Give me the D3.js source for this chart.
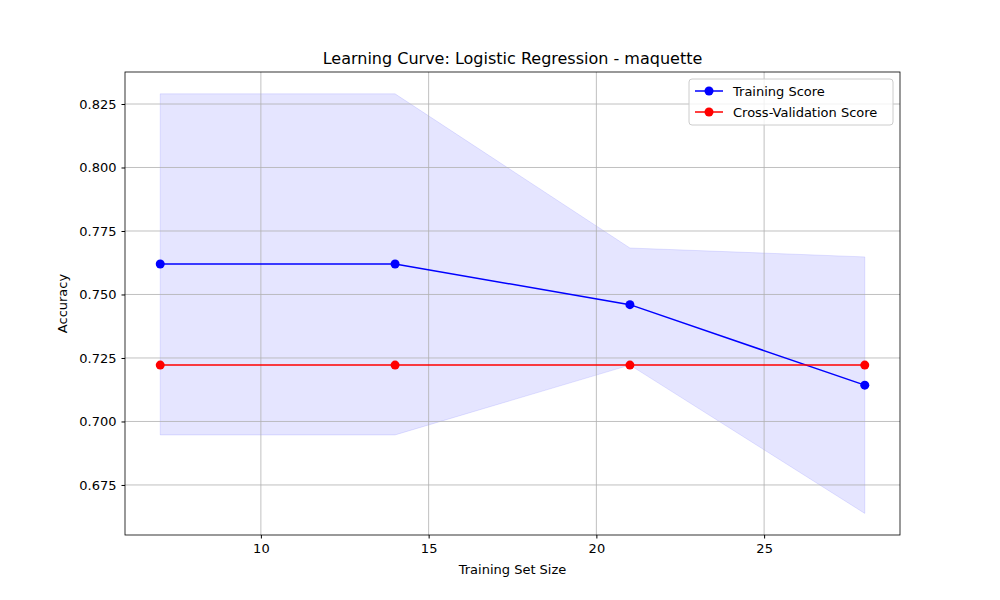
<!DOCTYPE html>
<html><head><meta charset="utf-8">
<script src="https://cdn.jsdelivr.net/npm/d3@7"></script>
<style>body{margin:0;background:#fff;font-family:"DejaVu Sans",sans-serif;}</style>
</head><body><div id="chart"></div>
<script>
var sizes = [7, 14, 21, 28];
var trainScore = [0.762, 0.762, 0.746, 0.7143];
var trainUpper = [0.829, 0.829, 0.7683, 0.7648];
var trainLower = [0.6947, 0.6947, 0.7222, 0.6638];
var cvScore = [0.7222, 0.7222, 0.7222, 0.7222];
var xTicks = [10, 15, 20, 25];
var yTicks = [0.675, 0.700, 0.725, 0.750, 0.775, 0.800, 0.825];

var W = 1000, H = 600, m = {l: 125, r: 100, t: 72, b: 65};
var svg = d3.select("#chart").append("svg").attr("width", W).attr("height", H);
var x = d3.scaleLinear().domain([5.95, 29.05]).range([m.l, W - m.r]);
var y = d3.scaleLinear().domain([0.6553, 0.8376]).range([H - m.b, m.t]);

// band (under grid, like matplotlib)
var area = d3.area().x((d, i) => x(sizes[i])).y0((d, i) => y(trainLower[i])).y1(d => y(d));
svg.append("path").datum(trainUpper).attr("d", area)
  .attr("fill", "rgba(0,0,255,0.1)").attr("stroke", "rgba(0,0,255,0.1)");

// grid
svg.append("g").selectAll("line").data(xTicks).enter().append("line")
  .attr("x1", d => x(d)).attr("x2", d => x(d)).attr("y1", m.t).attr("y2", H - m.b)
  .attr("stroke", "#b0b0b0").attr("stroke-width", 0.8);
svg.append("g").selectAll("line").data(yTicks).enter().append("line")
  .attr("y1", d => y(d)).attr("y2", d => y(d)).attr("x1", m.l).attr("x2", W - m.r)
  .attr("stroke", "#b0b0b0").attr("stroke-width", 0.8);

var line = d3.line().x((d, i) => x(sizes[i])).y(d => y(d));
function series(vals, col) {
  svg.append("path").datum(vals).attr("d", line).attr("fill", "none").attr("stroke", col).attr("stroke-width", 1.5);
  svg.append("g").selectAll("circle").data(vals).enter().append("circle")
    .attr("cx", (d, i) => x(sizes[i])).attr("cy", d => y(d)).attr("r", 4.5).attr("fill", col);
}
series(trainScore, "#0000ff");
series(cvScore, "#ff0000");

// axes
var xa = svg.append("g").attr("transform", "translate(0," + (H - m.b) + ")")
  .call(d3.axisBottom(x).tickValues(xTicks).tickSize(3.5).tickPadding(5));
var ya = svg.append("g").attr("transform", "translate(" + m.l + ",0)")
  .call(d3.axisLeft(y).tickValues(yTicks).tickFormat(d3.format(".3f")).tickSize(3.5).tickPadding(5));
[xa, ya].forEach(a => { a.select(".domain").remove(); a.selectAll("text").attr("font-size", 13).attr("font-family", "DejaVu Sans").attr("fill", "#000"); });
svg.append("rect").attr("x", m.l).attr("y", m.t).attr("width", W - m.l - m.r).attr("height", H - m.t - m.b)
  .attr("fill", "none").attr("stroke", "#000").attr("stroke-width", 0.8);

svg.append("text").attr("x", (m.l + W - m.r) / 2).attr("y", 64).attr("text-anchor", "middle")
  .attr("font-size", 16).text("Learning Curve: Logistic Regression - maquette");
svg.append("text").attr("x", (m.l + W - m.r) / 2).attr("y", 574).attr("text-anchor", "middle")
  .attr("font-size", 13).text("Training Set Size");
svg.append("text").attr("transform", "translate(67," + ((m.t + H - m.b) / 2) + ") rotate(-90)")
  .attr("text-anchor", "middle").attr("font-size", 13).text("Accuracy");

// legend
var lg = svg.append("g").attr("transform", "translate(689,79)");
lg.append("rect").attr("width", 204).attr("height", 46).attr("rx", 3)
  .attr("fill", "rgba(255,255,255,0.8)").attr("stroke", "#ccc");
[["Training Score", "#0000ff"], ["Cross-Validation Score", "#ff0000"]].forEach(function(e, i) {
  var yy = 12 + i * 21;
  lg.append("line").attr("x1", 6).attr("x2", 34).attr("y1", yy).attr("y2", yy).attr("stroke", e[1]).attr("stroke-width", 1.5);
  lg.append("circle").attr("cx", 20).attr("cy", yy).attr("r", 4.5).attr("fill", e[1]);
  lg.append("text").attr("x", 44).attr("y", yy + 4.5).attr("font-size", 13).text(e[0]);
});
</script></body></html>
